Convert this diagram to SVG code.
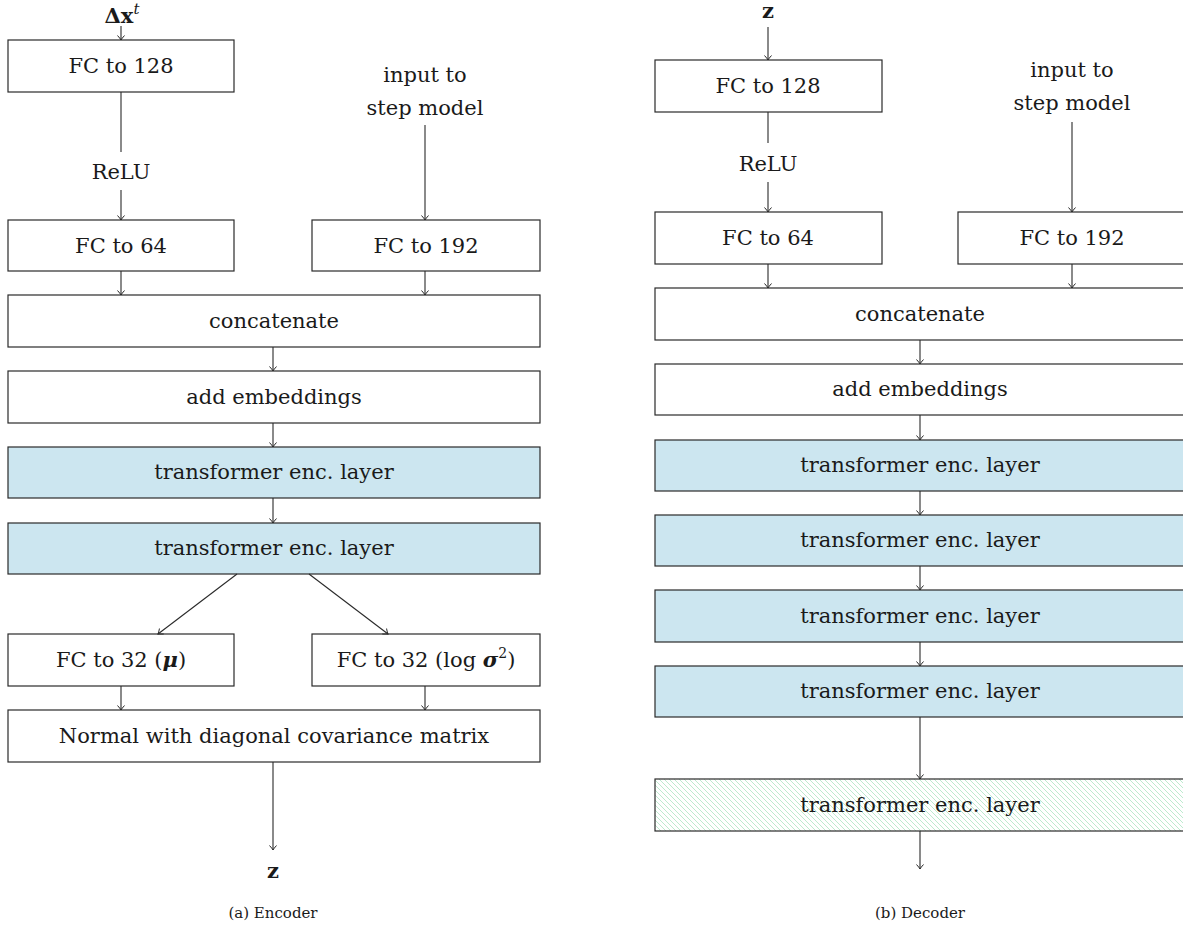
<svg xmlns="http://www.w3.org/2000/svg" width="1183" height="934" viewBox="0 0 1183 934">
<style>
.box{fill:#fff;stroke:#2a2a2a;stroke-width:1.2}
.blue{fill:#cce6f0;stroke:#2a2a2a;stroke-width:1.2}
.hatch{fill:url(#hatch);stroke:#2a2a2a;stroke-width:1.2}
.t{font-family:"DejaVu Serif","Liberation Serif",serif;font-size:21px;fill:#1a1a1a;text-anchor:middle}
.c{font-family:"DejaVu Serif","Liberation Serif",serif;font-size:15px;fill:#1a1a1a;text-anchor:middle}
.ln{stroke:#2a2a2a;stroke-width:1.1;fill:none}
.ar{stroke:#2a2a2a;stroke-width:1.1;fill:none;marker-end:url(#arr)}
</style>
<defs>
<marker id="arr" markerUnits="userSpaceOnUse" markerWidth="12" markerHeight="12" viewBox="-6 -6 12 12" refX="0" refY="0" orient="auto">
<path d="M-4.5,-3.5 Q-1.5,-0.8 0,0 Q-1.5,0.8 -4.5,3.5" stroke="#2a2a2a" stroke-width="1" fill="none"/>
</marker>
<pattern id="hatch" patternUnits="userSpaceOnUse" width="5" height="5">
<rect width="5" height="5" fill="#fff"/>
<path d="M0,0 L5,5 M-1,4 L1,6 M4,-1 L6,1" stroke="#b5e8c8" stroke-width="0.9"/>
</pattern>
</defs>

<!-- ENCODER -->
<g id="enc-input"><text class="t" x="122" y="23" font-weight="bold" font-size="22"><tspan>Δ</tspan>x<tspan font-style="italic" font-weight="normal" font-size="15" dy="-9">t</tspan></text></g>
<g id="enc-fc128"><rect class="box" x="8" y="40" width="226" height="52"/><text class="t" x="121" y="73">FC to 128</text></g>
<g id="enc-relu"><text class="t" x="121" y="179">ReLU</text></g>
<g id="enc-fc64"><rect class="box" x="8" y="220" width="226" height="51"/><text class="t" x="121" y="253">FC to 64</text></g>
<g id="enc-step"><text class="t" x="425" y="82">input to</text><text class="t" x="425" y="115">step model</text></g>
<g id="enc-fc192"><rect class="box" x="312" y="220" width="228" height="51"/><text class="t" x="426" y="253">FC to 192</text></g>
<g id="enc-concat"><rect class="box" x="8" y="295" width="532" height="52"/><text class="t" x="274" y="328">concatenate</text></g>
<g id="enc-embed"><rect class="box" x="8" y="371" width="532" height="52"/><text class="t" x="274" y="404">add embeddings</text></g>
<g id="enc-tr1"><rect class="blue" x="8" y="447" width="532" height="51"/><text class="t" x="274" y="479">transformer enc. layer</text></g>
<g id="enc-tr2"><rect class="blue" x="8" y="523" width="532" height="51"/><text class="t" x="274" y="555">transformer enc. layer</text></g>
<g id="enc-mu"><rect class="box" x="8" y="634" width="226" height="52"/><text class="t" x="121" y="667">FC to 32 (<tspan font-weight="bold" font-style="italic">μ</tspan>)</text></g>
<g id="enc-sigma"><rect class="box" x="312" y="634" width="228" height="52"/><text class="t" x="426" y="667">FC to 32 (log <tspan font-weight="bold" font-style="italic">σ</tspan><tspan font-size="14" dy="-9">2</tspan><tspan dy="9">)</tspan></text></g>
<g id="enc-normal"><rect class="box" x="8" y="710" width="532" height="52"/><text class="t" x="274" y="743">Normal with diagonal covariance matrix</text></g>
<g id="enc-z"><text class="t" x="273" y="878" font-weight="bold">z</text></g>
<g id="enc-caption"><text class="c" x="273" y="918">(a) Encoder</text></g>

<!-- DECODER -->
<g id="dec-input"><text class="t" x="768" y="18" font-weight="bold">z</text></g>
<g id="dec-fc128"><rect class="box" x="655" y="60" width="227" height="52"/><text class="t" x="768" y="93">FC to 128</text></g>
<g id="dec-relu"><text class="t" x="768" y="171">ReLU</text></g>
<g id="dec-fc64"><rect class="box" x="655" y="212" width="227" height="52"/><text class="t" x="768" y="245">FC to 64</text></g>
<g id="dec-step"><text class="t" x="1072" y="77">input to</text><text class="t" x="1072" y="110">step model</text></g>
<g id="dec-fc192"><rect class="box" x="958" y="212" width="229" height="52"/><text class="t" x="1072" y="245">FC to 192</text></g>
<g id="dec-concat"><rect class="box" x="655" y="288" width="532" height="52"/><text class="t" x="920" y="321">concatenate</text></g>
<g id="dec-embed"><rect class="box" x="655" y="364" width="532" height="51"/><text class="t" x="920" y="396">add embeddings</text></g>
<g id="dec-tr1"><rect class="blue" x="655" y="440" width="532" height="51"/><text class="t" x="920" y="472">transformer enc. layer</text></g>
<g id="dec-tr2"><rect class="blue" x="655" y="515" width="532" height="51"/><text class="t" x="920" y="547">transformer enc. layer</text></g>
<g id="dec-tr3"><rect class="blue" x="655" y="590" width="532" height="52"/><text class="t" x="920" y="623">transformer enc. layer</text></g>
<g id="dec-tr4"><rect class="blue" x="655" y="666" width="532" height="51"/><text class="t" x="920" y="698">transformer enc. layer</text></g>
<g id="dec-tr5"><rect class="hatch" x="655" y="779" width="532" height="52"/><text class="t" x="920" y="812">transformer enc. layer</text></g>
<g id="dec-caption"><text class="c" x="920" y="918">(b) Decoder</text></g>

<g id="connectors">
<path class="ar" d="M121,26 V40"/>
<path class="ln" d="M121,92 V152"/>
<path class="ar" d="M121,190 V220"/>
<path class="ar" d="M425,125 V220"/>
<path class="ar" d="M121,271 V295"/>
<path class="ar" d="M425,271 V295"/>
<path class="ar" d="M273,347 V371"/>
<path class="ar" d="M273,423 V447"/>
<path class="ar" d="M273,498 V523"/>
<path class="ar" d="M237,574 L158,634"/>
<path class="ar" d="M309,574 L388,634"/>
<path class="ar" d="M121,686 V710"/>
<path class="ar" d="M425,686 V710"/>
<path class="ar" d="M273,762 V850"/>

<path class="ar" d="M768,27 V60"/>
<path class="ln" d="M768,112 V143"/>
<path class="ar" d="M768,182 V212"/>
<path class="ar" d="M1072,122 V212"/>
<path class="ar" d="M768,264 V288"/>
<path class="ar" d="M1072,264 V288"/>
<path class="ar" d="M920,340 V364"/>
<path class="ar" d="M920,415 V440"/>
<path class="ar" d="M920,491 V515"/>
<path class="ar" d="M920,566 V590"/>
<path class="ar" d="M920,642 V666"/>
<path class="ar" d="M920,717 V779"/>
<path class="ar" d="M920,831 V869"/>
</g>
</svg>
